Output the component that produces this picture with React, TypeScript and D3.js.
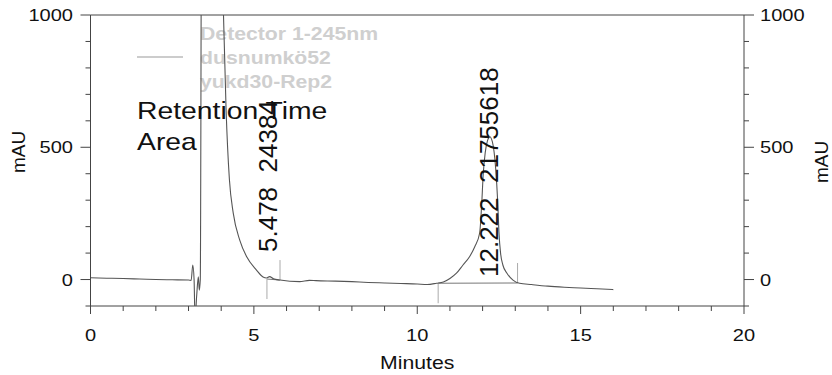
import React from 'react';
import * as d3 from 'd3';

// chromatogram trace (minutes, mAU)
const times = [
  0, 0.5, 1, 1.5, 2, 2.5, 3, 3.08, 3.13, 3.17, 3.2, 3.25, 3.3, 3.33, 3.36, 3.42,
  3.95, 4.07, 4.15, 4.25, 4.37, 4.57, 4.78, 5.08, 5.28, 5.39, 5.48, 5.6, 5.8,
  6.4, 6.7, 6.9, 7.5, 8, 8.5, 9, 9.5, 10, 10.3, 10.59, 10.8, 11.0, 11.2, 11.4,
  11.6, 11.76, 11.91, 11.97, 12.02, 12.08, 12.15, 12.22, 12.3, 12.4, 12.46,
  12.5, 12.55, 12.62, 12.75, 12.93, 13.13, 13.5, 14, 14.5, 15, 15.5, 16
];
const signal = [
  7, 5, 4, 2, 0, -1, -2, -3, 55, 0, -150, -60, 10, -40, 0, 2500,
  1300, 1000, 640, 380, 250, 148, 86, 36, 10, 6, 11, 3, -2,
  -8, -3, -4, -6, -8, -11, -13, -15, -17, -19, -14, -9, 4, 24, 55,
  86, 124, 176, 280, 400, 480, 525, 540, 520, 420, 300,
  180, 100, 55, 23, -2, -14, -19, -25, -29, -32, -35, -38
];

const peakTimes = [5.478, 12.222];
const peakAreas = [24384, 21755618];
const peakStarts = [5.4, 10.64];
const peakEnds = [5.8, 13.07];
const peakStartLevel = [2, -14];
const peakEndLevel = [-2, -13];

const xTicks = [0, 5, 10, 15, 20];
const xMinor = d3.range(0, 21, 1);
const yTicks = [0, 500, 1000];
const yMinor = d3.range(-100, 1001, 100);

const legendLines = ['Detector 1-245nm', 'dusnumkö52', 'yukd30-Rep2'];
const tableHeads = ['Retention Time', 'Area'];

const W = 832;
const H = 375;
const SX = 1.18; // the original picture is a bit stretched sideways

const App = () => {
  const left = 90.5, right = 744, top = 15, bottom = 306;
  const x = d3.scaleLinear().domain([0, 20]).range([left, right]);
  const y = d3.scaleLinear().domain([-100, 1000]).range([bottom, top]);

  const pts = times.map((t, i) => [t, signal[i]] as [number, number]);
  const line = d3.line<[number, number]>()
    .x(d => x(d[0]))
    .y(d => y(d[1]))
    .curve(d3.curveMonotoneX);

  const font = '"Liberation Sans", Arial, sans-serif';
  const axisCol = '#444';
  const labelBottom = [252, 277];

  const hText = (tx: number, ty: number, s: string, size: number, anchor: string, extra: any = {}) => (
    <text
      transform={`translate(${tx},${ty}) scale(${SX},1)`}
      fontSize={size}
      textAnchor={anchor}
      fill="#111"
      {...extra}
    >
      {s}
    </text>
  );

  return (
    <svg
      width={W}
      height={H}
      style={{ position: 'absolute', left: 0, top: 0, background: '#fff', fontFamily: font }}
    >
      <defs>
        <clipPath id="plot">
          <rect x={left} y={top} width={right - left} height={bottom - top} />
        </clipPath>
      </defs>

      {/* frame */}
      <line x1={left} x2={right} y1={top} y2={top} stroke={axisCol} strokeWidth={1} />
      <line x1={left} x2={right} y1={bottom} y2={bottom} stroke={axisCol} strokeWidth={1} />
      <line x1={left} x2={left} y1={top} y2={bottom} stroke={axisCol} strokeWidth={1} />
      <line x1={right} x2={right} y1={top} y2={bottom} stroke={axisCol} strokeWidth={1} />

      {/* x ticks */}
      {xMinor.map(t => (
        <line key={`xm-${t}`} x1={x(t)} x2={x(t)} y1={bottom} y2={bottom + (t % 5 === 0 ? 8 : 5)} stroke={axisCol} />
      ))}
      {xTicks.map(t => (
        <g key={`xl-${t}`}>{hText(x(t), 341, String(t), 17, 'middle')}</g>
      ))}
      {hText((left + right) / 2, 369, 'Minutes', 18, 'middle')}

      {/* y ticks, both sides */}
      {yMinor.map(v => {
        const major = v % 500 === 0;
        return (
          <g key={`ym-${v}`}>
            <line x1={left - (major ? 10 : 5)} x2={left} y1={y(v)} y2={y(v)} stroke={axisCol} />
            <line x1={right} x2={right + (major ? 10 : 5)} y1={y(v)} y2={y(v)} stroke={axisCol} />
          </g>
        );
      })}
      {yTicks.map(v => (
        <g key={`yl-${v}`}>
          {hText(73, y(v) + 6, String(v), 17, 'end')}
          {hText(760, y(v) + 6, String(v), 17, 'start')}
        </g>
      ))}
      <text transform="translate(25,152) rotate(-90)" fontSize={19} textAnchor="middle" fill="#111">mAU</text>
      <text transform="translate(828,162) rotate(-90)" fontSize={19} textAnchor="middle" fill="#111">mAU</text>

      {/* legend */}
      <line x1={137} x2={183} y1={57} y2={57} stroke="#999" strokeWidth={1} />
      {legendLines.map((s, i) => (
        <g key={s}>{hText(200, 40 + i * 24, s, 18, 'start', { fill: '#cfcfcf', fontWeight: 'bold' })}</g>
      ))}

      {/* integration baselines and peak marks */}
      <g clipPath="url(#plot)">
        {peakTimes.map((_, i) => (
          <g key={`pk-${i}`} stroke="#aaa" strokeWidth={1}>
            <line x1={x(peakStarts[i])} x2={x(peakEnds[i])} y1={y(peakStartLevel[i])} y2={y(peakEndLevel[i])} stroke="#777" />
            <line x1={x(peakStarts[i])} x2={x(peakStarts[i])} y1={y(peakStartLevel[i])} y2={y(peakStartLevel[i]) + 20} />
            <line x1={x(peakEnds[i])} x2={x(peakEnds[i])} y1={y(peakEndLevel[i])} y2={y(peakEndLevel[i]) - 20} />
          </g>
        ))}
        <path d={line(pts) || ''} fill="none" stroke="#555" strokeWidth={1.1} />
      </g>

      {/* table header */}
      {tableHeads.map((s, i) => (
        <g key={s}>{hText(137, 119 + i * 31, s, 24, 'start')}</g>
      ))}

      {/* peak labels */}
      {peakTimes.map((t, i) => (
        <text
          key={`pl-${i}`}
          transform={`translate(${x(t) + 8},${labelBottom[i]}) rotate(-90)`}
          fontSize={26}
          fill="#111"
        >
          {`${t.toFixed(3)}\u00a0\u00a0${peakAreas[i]}`}
        </text>
      ))}
    </svg>
  );
};

export default App;
